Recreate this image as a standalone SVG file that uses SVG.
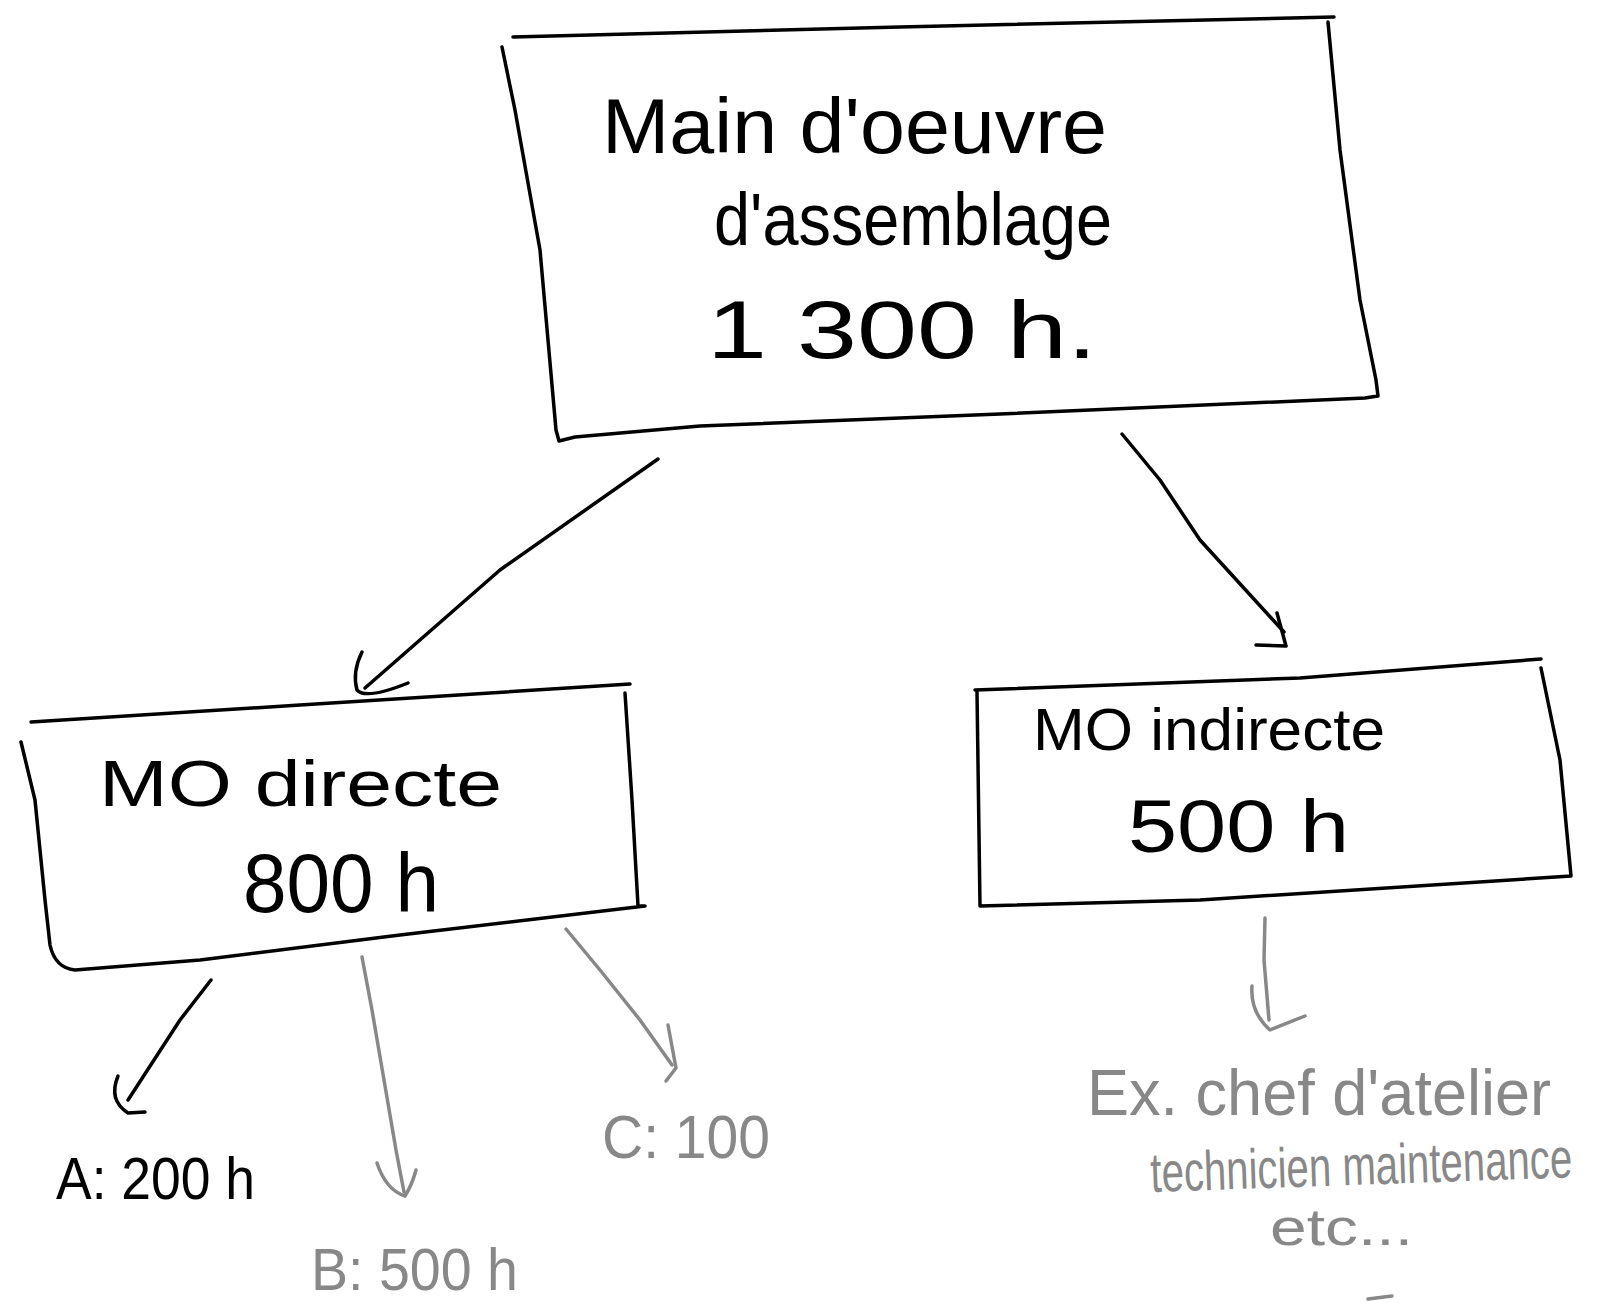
<svg xmlns="http://www.w3.org/2000/svg" width="1600" height="1311" viewBox="0 0 1600 1311">
<style>
.ink{fill:none;stroke:#000;stroke-width:3.5;stroke-linecap:round;stroke-linejoin:round}
.gray{fill:none;stroke:#888;stroke-width:3.5;stroke-linecap:round;stroke-linejoin:round}
.t{font-family:"Liberation Sans","DejaVu Sans",sans-serif;fill:#000;text-anchor:start}
.tg{font-family:"Liberation Sans","DejaVu Sans",sans-serif;fill:#888;text-anchor:start}
</style>
<rect width="1600" height="1311" fill="#fff"/>
<g id="node-total">
<path class="ink" d="M513,37 L900,27 L1334,17"/>
<path class="ink" d="M502,47 L515,110 L540,250 L556,430 L559,441 L575,437 L700,426 L1000,414 L1365,398 L1378,396 L1376,380 L1360,300 L1340,150 L1328,22"/>
<text class="t" x="602" y="153" font-size="78" textLength="505" lengthAdjust="spacingAndGlyphs">Main d'oeuvre</text>
<text class="t" x="714" y="245" font-size="74" textLength="398" lengthAdjust="spacingAndGlyphs">d'assemblage</text>
<text class="t" x="707" y="358" font-size="82" textLength="390" lengthAdjust="spacingAndGlyphs">1 300 h.</text>
</g>
<g id="node-directe">
<path class="ink" d="M31,722 L300,705 L630,684"/>
<path class="ink" d="M21,742 L35,800 L45,900 L50,945 Q55,968 75,970 L200,960 L400,935 L645,906 L638,906 L632,800 L625,693"/>
<text class="t" x="99" y="806" font-size="64" textLength="403" lengthAdjust="spacingAndGlyphs">MO directe</text>
<text class="t" x="243" y="912" font-size="84" textLength="196" lengthAdjust="spacingAndGlyphs">800 h</text>
</g>
<g id="node-indirecte">
<path class="ink" d="M975,690 L1300,678 L1541,659"/>
<path class="ink" d="M977,692 L980,906 L1200,900 L1571,876 L1560,760 L1541,668"/>
<text class="t" x="1033" y="750" font-size="60" textLength="352" lengthAdjust="spacingAndGlyphs">MO indirecte</text>
<text class="t" x="1128" y="852" font-size="74" textLength="221" lengthAdjust="spacingAndGlyphs">500 h</text>
</g>
<g id="node-a">
<text class="t" x="56" y="1199" font-size="60" textLength="199" lengthAdjust="spacingAndGlyphs">A: 200 h</text>
</g>
<g id="node-b">
<text class="tg" x="311" y="1290" font-size="60" textLength="207" lengthAdjust="spacingAndGlyphs">B: 500 h</text>
</g>
<g id="node-c">
<text class="tg" x="602" y="1158" font-size="62" textLength="168" lengthAdjust="spacingAndGlyphs">C: 100</text>
</g>
<g id="node-ex">
<text class="tg" x="1087" y="1115" font-size="64" textLength="464" lengthAdjust="spacingAndGlyphs">Ex. chef d'atelier</text>
<text class="tg" x="0" y="0" font-size="40" textLength="422" lengthAdjust="spacingAndGlyphs" transform="translate(1151 1192) rotate(-2) scale(1 1.4)">technicien maintenance</text>
<text class="tg" x="1270" y="1245" font-size="52" textLength="143" lengthAdjust="spacingAndGlyphs">etc...</text>
<path class="gray" d="M1368,1299 L1392,1296"/>
</g>
<g id="connectors">
<path class="ink" d="M658,459 L500,570 L365,688"/>
<path class="ink" d="M362,652 Q352,672 357,690 Q366,700 408,683"/>
<path class="ink" d="M1122,434 L1160,480 L1200,540 L1284,632"/>
<path class="ink" d="M1277,613 L1286,646 L1256,645"/>
<path class="ink" d="M211,980 L180,1020 L128,1100"/>
<path class="ink" d="M118,1076 Q108,1100 128,1113 L145,1112"/>
<path class="gray" d="M362,957 L372,1010 L396,1150 L404,1192"/>
<path class="gray" d="M377,1163 Q386,1190 405,1196 Q412,1185 416,1170"/>
<path class="gray" d="M566,929 L600,970 L640,1020 L672,1065"/>
<path class="gray" d="M668,1025 L676,1068 L666,1081"/>
<path class="gray" d="M1265,918 L1264,960 L1269,1020"/>
<path class="gray" d="M1252,986 Q1250,1012 1270,1030 L1305,1016"/>
</g>
</svg>
